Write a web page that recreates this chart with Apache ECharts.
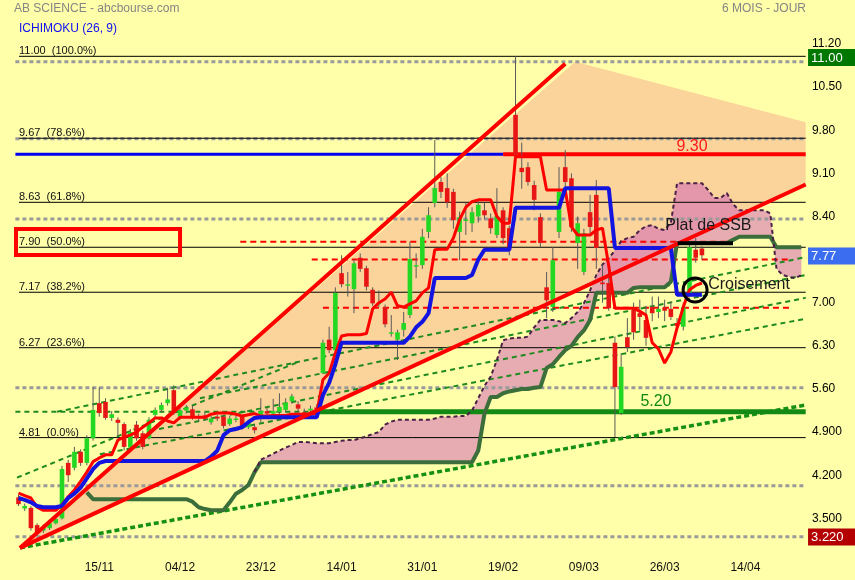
<!DOCTYPE html>
<html><head><meta charset="utf-8">
<script src="https://cdn.jsdelivr.net/npm/echarts@6/dist/echarts.min.js"></script>
<style>html,body{margin:0;padding:0;background:#FFFFAA;}#c{width:855px;height:580px;}</style>
</head><body><div id="c"></div>
<script>
// ---------- DATA ----------
const NCAT = 127;
const xTickPos = [13,26,39,52,65,78,91,104,117];
const xTickLabels = ['15/11','04/12','23/12','14/01','31/01','19/02','09/03','26/03','14/04'];
const yTicks = [3.5,4.2,4.9,5.6,6.3,7.0,8.4,9.1,9.8,10.5,11.2];
const yTickText = ['3.500','4.200','4.900','5.60','6.30','7.00','8.40','9.10','9.80','10.50','11.20'];

// [open, close, low, high]
const ohlc = [
[3.84,3.73,3.70,3.88],[3.66,3.70,3.62,3.74],[3.67,3.34,3.30,3.70],[3.39,3.26,3.22,3.42],[3.30,3.36,3.26,3.40],
[3.34,3.42,3.31,3.48],[3.42,3.49,3.40,3.56],[3.50,4.30,3.48,4.35],[4.40,4.20,4.09,4.45],[4.32,4.58,4.28,4.66],
[4.58,4.40,4.35,4.62],[4.40,4.80,4.36,4.85],[4.80,5.26,4.76,5.63],[5.37,5.21,5.15,5.63],[5.39,5.13,5.10,5.45],
[5.13,5.19,5.08,5.24],[5.10,5.05,4.83,5.14],[5.03,4.66,4.60,5.06],[4.65,4.90,4.62,4.95],[5.02,4.80,4.76,5.08],
[4.88,4.66,4.62,4.92],[4.80,5.10,4.78,5.14],[5.18,5.26,5.14,5.30],[5.26,5.34,5.22,5.38],[5.37,5.43,5.33,5.62],
[5.58,5.21,5.18,5.66],[5.15,5.25,5.10,5.30],[5.25,5.30,5.20,5.34],[5.27,5.13,5.10,5.33],[5.15,5.15,5.08,5.20],
[5.17,5.12,5.08,5.22],[5.06,5.12,5.02,5.16],[5.15,5.12,5.08,5.18],[5.15,5.00,4.96,5.18],[5.03,5.12,5.00,5.16],
[5.12,5.12,5.06,5.16],[5.15,4.98,4.94,5.18],[4.98,5.05,4.95,5.10],[4.98,4.93,4.88,5.02],[5.17,5.24,5.06,5.45],
[5.24,5.20,5.12,5.30],[5.20,5.24,5.15,5.44],[5.23,5.31,5.18,5.53],[5.26,5.38,5.22,5.45],[5.40,5.48,5.36,5.52],
[5.35,5.28,5.22,5.40],[5.22,5.20,5.15,5.28],[5.25,5.28,5.20,5.33],[5.30,5.27,5.22,5.35],[5.86,6.35,5.84,6.40],
[6.40,6.23,6.18,6.61],[6.23,7.16,6.20,7.25],[7.48,7.30,7.25,7.77],[7.30,7.30,7.10,7.50],[7.22,7.64,6.83,7.70],
[7.73,7.55,7.50,7.80],[7.56,7.26,7.20,7.60],[7.21,6.99,6.95,7.25],[7.00,7.00,6.93,7.20],[6.93,6.65,6.60,6.97],
[6.52,6.52,6.45,6.80],[6.40,6.52,6.07,6.56],[6.56,6.67,6.45,6.85],[6.80,7.71,6.75,7.99],[7.61,7.61,7.40,7.80],
[7.61,8.07,7.55,8.20],[8.15,8.42,8.05,8.55],[8.62,8.86,8.55,9.64],[8.96,8.80,8.70,9.05],[8.86,8.63,8.54,9.10],
[8.80,8.34,8.20,8.85],[8.15,8.39,7.69,8.48],[8.35,8.35,8.10,8.63],[8.29,8.47,8.15,8.55],[8.40,8.59,8.30,8.65],
[8.50,8.42,8.35,8.62],[8.37,8.21,8.12,8.45],[8.10,8.41,8.05,8.86],[8.50,8.05,7.95,8.55],[8.21,7.90,7.77,8.25],
[10.05,9.40,9.35,11.00],[9.19,9.12,8.85,9.60],[9.20,8.96,8.90,9.28],[8.91,8.67,8.50,8.98],[8.39,7.97,7.90,8.45],
[7.25,7.04,6.75,7.50],[6.93,7.69,6.85,7.90],[8.15,8.80,8.05,9.20],[9.20,8.96,8.85,9.48],[9.02,8.23,8.15,9.10],
[7.97,8.29,7.55,8.40],[7.50,8.13,7.45,8.20],[8.47,8.23,8.10,8.75],[8.75,7.89,7.55,8.99],[7.33,7.30,7.00,7.62],
[7.32,6.91,6.87,7.62],[6.35,5.63,4.82,6.45],[5.21,5.96,5.18,6.18],[6.44,6.28,6.20,6.75],[6.88,6.52,6.40,7.00],
[6.83,6.77,6.55,7.05],[6.72,6.43,6.30,6.95],[6.93,6.83,6.70,7.10],[6.85,6.90,6.75,7.10],[6.92,6.87,6.70,7.05],
[6.90,6.77,6.72,7.02],[6.67,6.62,6.55,6.75],[6.61,6.93,6.55,7.00],[7.15,7.90,7.10,7.95],[7.86,7.73,7.65,8.05],
[7.88,7.77,7.70,7.92]
];

const tenkan = [3.91,3.87,3.83,3.68,3.63,3.63,3.63,3.72,3.85,3.96,
4.10,4.25,4.42,4.48,4.53,4.53,4.77,4.82,4.85,4.90,
4.98,5.05,5.13,5.13,5.08,5.05,5.14,5.14,5.14,5.14,
5.14,5.19,5.21,5.21,5.21,5.19,5.16,5.18,5.20,5.16,
5.16,5.17,5.17,5.17,5.19,5.19,5.19,5.19,5.20,5.75,
5.86,6.18,6.46,6.48,6.48,6.48,6.50,6.90,7.00,7.06,
7.17,6.95,6.93,6.98,7.03,7.16,7.24,7.86,7.87,7.87,
8.05,8.35,8.55,8.64,8.67,8.67,8.67,8.40,8.29,8.29,
9.37,9.37,9.37,9.37,9.37,8.83,8.83,8.83,8.83,8.23,
8.10,8.10,8.10,8.18,8.21,7.60,6.91,6.91,6.91,6.91,
6.86,6.80,6.35,6.25,6.02,6.20,6.59,6.93,7.21,7.28,
7.32];

const kijun = [3.83,3.80,3.76,3.70,3.68,3.68,3.68,3.70,3.83,3.90,
4.00,4.15,4.30,4.40,4.43,4.43,4.43,4.43,4.43,4.43,
4.43,4.43,4.43,4.43,4.43,4.43,4.43,4.43,4.43,4.43,
4.43,4.50,4.60,4.85,4.93,4.95,4.98,5.06,5.13,5.14,
5.14,5.14,5.14,5.14,5.14,5.14,5.14,5.14,5.14,5.50,
5.70,6.00,6.35,6.35,6.35,6.35,6.35,6.35,6.35,6.35,
6.35,6.35,6.35,6.45,6.60,6.69,6.83,7.40,7.40,7.40,
7.40,7.40,7.40,7.45,7.70,7.86,7.86,7.86,7.86,7.86,
8.54,8.54,8.54,8.54,8.54,8.54,8.54,8.54,8.86,8.86,
8.86,8.86,8.86,8.86,8.86,8.86,7.89,7.89,7.89,7.89,
7.89,7.89,7.89,7.89,7.89,7.89,7.13,7.13,7.13,7.13,
7.13];

const ssb = [null,null,null,null,null,null,null,null,null,null,
null,3.92,3.81,3.81,3.81,3.81,3.81,3.81,3.81,3.81,
3.81,3.81,3.81,3.81,3.81,3.81,3.81,3.81,3.77,3.68,
3.65,3.63,3.63,3.63,3.76,3.90,3.96,4.04,4.25,4.41,
4.41,4.41,4.41,4.41,4.41,4.41,4.41,4.41,4.41,4.41,
4.41,4.41,4.41,4.41,4.41,4.41,4.41,4.41,4.41,4.41,
4.41,4.41,4.41,4.41,4.41,4.41,4.41,4.41,4.41,4.41,
4.41,4.41,4.41,4.41,4.60,5.20,5.47,5.47,5.53,5.56,
5.58,5.60,5.60,5.62,5.63,5.94,6.00,6.12,6.23,6.30,
6.44,6.55,6.72,7.16,7.16,7.16,7.16,7.16,7.16,7.24,
7.25,7.25,7.25,7.25,7.25,7.34,7.97,7.97,7.97,7.97,
7.97,7.97,7.97,7.97,7.97,8.02,8.07,8.07,8.07,8.07,
8.07,8.07,7.90,7.90,7.90,7.90,7.90];

const ssa = [null,null,null,null,null,null,null,null,null,null,
null,null,null,null,null,null,null,null,null,null,
null,null,null,null,null,null,null,null,null,null,
null,null,null,null,null,null,null,null,4.25,4.45,
4.50,4.55,4.60,4.65,4.69,4.74,4.74,4.73,4.72,4.72,
4.72,4.74,4.76,4.77,4.77,4.80,4.83,4.87,4.90,5.02,
5.07,5.10,5.10,5.10,5.10,5.10,5.10,5.12,5.15,5.15,
5.15,5.16,5.16,5.25,5.45,5.65,5.80,6.07,6.39,6.42,
6.43,6.43,6.45,6.60,6.72,6.72,6.72,6.70,6.67,6.75,
6.85,6.99,7.20,7.45,7.62,7.72,7.85,8.00,8.05,8.07,
8.18,8.24,8.26,8.20,8.18,8.30,8.94,8.94,8.94,8.94,
8.94,8.83,8.70,8.70,8.78,8.60,8.50,8.50,8.50,8.50,
8.50,8.45,7.55,7.45,7.42,7.40,7.45];

// Fibonacci retracement levels
const fibLevels = [11.00, 9.67, 8.63, 7.90, 7.17, 6.27, 4.81];
const fibPct = ['100.0%','78.6%','61.8%','50.0%','38.2%','23.6%','0.0%'];
// grey dotted levels
const greyLevels = [10.91, 9.66, 8.36, 5.62, 4.03, 3.20];
// red dashed levels [fromIndex, toIndex, price]
const redDashed = [[35.7,114.5,7.99],[47.2,124.2,7.70],[49.0,124.2,6.92]];
// green dashed channel lines [x1, p1, x2, p2]
const greenDashed = [[6.2,5.23,126.7,7.74],[-0.24,4.16,45.3,6.05],[29.2,5.45,126.7,7.45],[21.2,4.92,126.7,7.08],[13.1,4.54,126.7,6.74]];
const greenDotted = [[0.24,3.02,126.7,5.34]];
const level520 = 5.23;
// red trend lines
const redTrend = [[0.24,3.02,88.0,10.88],[0.24,3.02,126.7,8.92]];
// fan area
const fanPts = [[0.24,3.02],[89.6,10.91],[126.7,9.93],[126.7,8.92]];
const level930 = 9.41;
const ssbFlat = [106.1,115.0,7.965];
// annotations
const notes = [
  {x:108.4, p:9.54, t:'9.30', c:'#FF1A1A', a:'center'},
  {x:102.6, p:5.40, t:'5.20', c:'#118811', a:'center'},
  {x:104.1, p:8.245, t:'Plat de SSB', c:'#1a1a1a', a:'left'},
  {x:111.0, p:7.30, t:'Croisement', c:'#1a1a1a', a:'left'}
];
const circle = [108.9, 7.206];
const box790 = [-0.40, 8.197, 26.0, 7.775];
const tags = [[10.98,'11.00','#007800'],[7.758,'7.77','#3a6df0'],[3.197,'3.220','#b40000']];

// ---------- CHART ----------
const chart = echarts.init(document.getElementById('c'));
const cats = []; for (let i = 0; i < NCAT; i++) cats.push(String(i));
const FONT = '"Liberation Sans", Arial, sans-serif';

function segSeries(segs, style, z) {
  return {
    type: 'custom', xAxisIndex: 1, yAxisIndex: 0, z: z, silent: true,
    data: segs, encode: {x: [0, 2], y: [1, 3]},
    renderItem: function (p, api) {
      const a = api.coord([api.value(0), api.value(1)]);
      const b = api.coord([api.value(2), api.value(3)]);
      return {type: 'line', shape: {x1: a[0], y1: a[1], x2: b[0], y2: b[1]}, style: Object.assign({fill: null}, style)};
    }
  };
}

const fibSegs = fibLevels.map(v => [0.08, v, 126.7, v]);
const greySegs = greyLevels.map(v => [-0.5, v, 126.7, v]);
const redSegs = redDashed.map(d => [d[0], d[2], d[1], d[2]]);

const series = [];
// fan area
series.push({
  type: 'custom', xAxisIndex: 1, z: 1, silent: true, data: [[0, 5]],
  renderItem: (p, api) => ({type: 'polygon', shape: {points: fanPts.map(q => api.coord(q))}, style: {fill: '#FBD49B'}})
});
// kumo
series.push({
  type: 'custom', xAxisIndex: 1, z: 2, silent: true, data: [[0, 5]],
  renderItem: (p, api) => {
    const up = [], lo = [];
    for (let i = 0; i < NCAT; i++) {
      if (ssa[i] != null && ssb[i] != null) { up.push(api.coord([i, ssa[i]])); lo.push(api.coord([i, ssb[i]])); }
    }
    return {type: 'polygon', shape: {points: up.concat(lo.reverse())}, style: {fill: 'rgba(205,90,185,0.5)'}};
  }
});
series.push(segSeries(greySegs, {stroke: '#9a9a9a', lineWidth: 3, lineDash: [4, 3]}, 3));
series.push(segSeries(fibSegs, {stroke: '#000', lineWidth: 1}, 3));
series.push(segSeries(redSegs, {stroke: '#FF0000', lineWidth: 2, lineDash: [6, 4]}, 4));
series.push(segSeries(greenDashed, {stroke: '#1f8a1f', lineWidth: 2, lineDash: [5, 4]}, 4));
series.push(segSeries([[-0.5, level520, 48, level520]], {stroke: '#1f8a1f', lineWidth: 2, lineDash: [5, 4]}, 4));
series.push(segSeries(greenDotted, {stroke: '#159015', lineWidth: 3.5, lineDash: [5, 3]}, 4));
series.push(segSeries([[48, level520, 126.7, level520]], {stroke: '#138a13', lineWidth: 5}, 4));
series.push(segSeries([[-0.5, level930, 78, level930]], {stroke: '#0000EE', lineWidth: 3}, 4));
series.push(segSeries([[78, level930, 126.7, level930]], {stroke: '#FF0000', lineWidth: 4}, 4));
// ichimoku senkou spans
series.push({type: 'line', xAxisIndex: 0, data: ssb, symbol: 'none', z: 5, silent: true,
  lineStyle: {color: '#3b6e3b', width: 4}});
series.push({type: 'line', xAxisIndex: 0, data: ssa, symbol: 'none', z: 5, silent: true,
  lineStyle: {color: '#4a2246', width: 2, type: [4, 3]}});
// candles
series.push({
  type: 'custom', xAxisIndex: 0, yAxisIndex: 0, z: 6, silent: true,
  data: ohlc.map((d, i) => [i, d[0], d[1], d[2], d[3]]),
  encode: {x: 0, y: [1, 2, 3, 4]},
  renderItem: function (p, api) {
    const i = api.value(0), o = api.value(1), c = api.value(2), l = api.value(3), h = api.value(4);
    const pO = api.coord([i, o]), pC = api.coord([i, c]), pL = api.coord([i, l]), pH = api.coord([i, h]);
    const x = pO[0], bw = 4.6;
    const top = Math.min(pO[1], pC[1]);
    const hh = Math.max(Math.abs(pO[1] - pC[1]), 1.5);
    return {type: 'group', children: [
      {type: 'line', shape: {x1: x, y1: pH[1], x2: x, y2: pL[1]}, style: {stroke: '#5a5a5a', lineWidth: 1}},
      {type: 'rect', shape: {x: x - bw / 2, y: top, width: bw, height: hh}, style: {fill: c >= o ? '#22D822' : '#E81515'}}
    ]};
  }
});
// tenkan / kijun
series.push({type: 'line', xAxisIndex: 0, data: tenkan, symbol: 'none', z: 7, silent: true,
  lineStyle: {color: '#FF0000', width: 3}});
series.push({type: 'line', xAxisIndex: 0, data: kijun, symbol: 'none', z: 7, silent: true,
  lineStyle: {color: '#1414E0', width: 4}});
// red trend lines
series.push(segSeries(redTrend, {stroke: '#FF0000', lineWidth: 4}, 8));
series.push(segSeries([[ssbFlat[0], ssbFlat[2], ssbFlat[1], ssbFlat[2]]], {stroke: '#000', lineWidth: 4}, 8));
// fib labels
series.push({
  type: 'custom', xAxisIndex: 1, z: 9, silent: true,
  data: fibLevels.map((v, k) => [0.08, v, k]),
  renderItem: (p, api) => {
    const pt = api.coord([api.value(0), api.value(1)]);
    const k = api.value(2);
    return {type: 'text', x: pt[0], y: pt[1] + 0.5, style: {text: fibLevels[k].toFixed(2) + '  (' + fibPct[k] + ')',
      fill: '#111', font: '11px ' + FONT, align: 'left', verticalAlign: 'bottom'}};
  }
});
// notes
series.push({
  type: 'custom', xAxisIndex: 1, z: 9, silent: true,
  data: notes.map((n, k) => [n.x, n.p, k]),
  renderItem: (p, api) => {
    const pt = api.coord([api.value(0), api.value(1)]);
    const n = notes[api.value(2)];
    return {type: 'text', x: pt[0], y: pt[1], style: {text: n.t, fill: n.c, font: '16px ' + FONT, align: n.a, verticalAlign: 'middle'}};
  }
});
// circle + box
series.push({
  type: 'custom', xAxisIndex: 1, z: 9, silent: true, data: [[0, 5]],
  renderItem: (p, api) => {
    const c = api.coord(circle);
    const b1 = api.coord([box790[0], box790[1]]), b2 = api.coord([box790[2], box790[3]]);
    return {type: 'group', children: [
      {type: 'circle', shape: {cx: c[0], cy: c[1], r: 12}, style: {fill: null, stroke: '#000', lineWidth: 3}},
      {type: 'rect', shape: {x: b1[0], y: b1[1], width: b2[0] - b1[0], height: b2[1] - b1[1]}, style: {fill: null, stroke: '#FF0000', lineWidth: 4}}
    ]};
  }
});
// right price tags
series.push({
  type: 'custom', xAxisIndex: 1, z: 10, silent: true,
  data: tags.map((t, k) => [126.5, t[0], k]),
  renderItem: (p, api) => {
    const pt = api.coord([api.value(0), api.value(1)]);
    const t = tags[api.value(2)];
    const x0 = pt[0] + 3.6;
    return {type: 'group', children: [
      {type: 'rect', shape: {x: x0, y: pt[1] - 8.5, width: 48, height: 17}, style: {fill: t[2]}},
      {type: 'text', x: x0 + 3, y: pt[1] + 0.5, style: {text: t[1], fill: '#fff', font: '13px ' + FONT, align: 'left', verticalAlign: 'middle'}}
    ]};
  }
});

const option = {
  animation: false,
  backgroundColor: '#FFFFAA',
  grid: {left: 15.39, width: 789.05, top: 19.36, height: 542.08, containLabel: false, outerBoundsMode: 'none'},
  xAxis: [
    {type: 'category', data: cats, boundaryGap: true,
      axisLine: {show: false}, axisTick: {show: false}, splitLine: {show: false},
      axisLabel: {interval: (idx) => xTickPos.indexOf(idx) >= 0,
        formatter: (v, idx) => { const k = xTickPos.indexOf(Number(v)); return k >= 0 ? xTickLabels[k] : ''; },
        color: '#111', fontSize: 12, fontFamily: FONT, margin: 0}},
    {type: 'value', min: -0.5, max: NCAT - 0.5, show: false}
  ],
  yAxis: {type: 'value', min: 2.8, max: 11.6, interval: 0.7, position: 'right', scale: true,
    axisLine: {show: false}, axisTick: {show: false}, splitLine: {show: false},
    axisLabel: {margin: 7.5, color: '#000', fontSize: 12, fontFamily: FONT,
      formatter: (v) => { const k = yTicks.findIndex(t => Math.abs(t - v) < 1e-3); return k < 0 ? '' : yTickText[k]; }}},
  graphic: [
    {type: 'text', left: 14, top: 3, style: {text: 'AB SCIENCE - abcbourse.com', fill: '#858585', font: '12px ' + FONT}},
    {type: 'text', left: 19, top: 23, style: {text: 'ICHIMOKU (26, 9)', fill: '#1010F0', font: '12px ' + FONT}},
    {type: 'text', right: 49, top: 3, style: {text: '6 MOIS - JOUR', fill: '#858585', font: '12px ' + FONT}}
  ],
  series: series
};
chart.setOption(option);
</script></body></html>
